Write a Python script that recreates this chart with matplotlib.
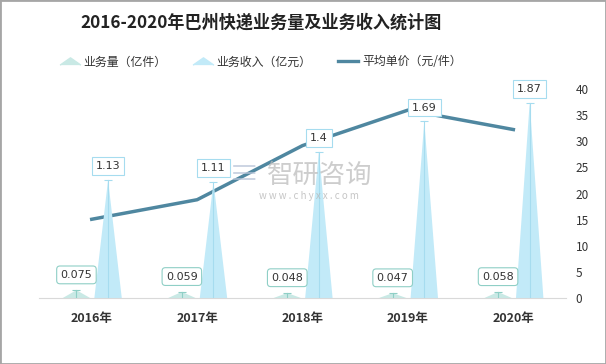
import matplotlib
matplotlib.use("Agg")
import matplotlib.pyplot as plt
from matplotlib.lines import Line2D
from matplotlib.patches import Rectangle

plt.rcParams['font.family'] = ['Noto Sans CJK SC', 'DejaVu Sans']

# ================== DATA ==================
YEARS = ["2016年", "2017年", "2018年", "2019年", "2020年"]
VOLUME = [0.075, 0.059, 0.048, 0.047, 0.058]      # 业务量（亿件）
REVENUE = [1.13, 1.11, 1.4, 1.69, 1.87]           # 业务收入（亿元）
AVG_PRICE = [15.07, 18.81, 29.17, 35.96, 32.24]   # 平均单价（元/件）
RIGHT_TICKS = [0, 5, 10, 15, 20, 25, 30, 35, 40]

TITLE = "2016-2020年巴州快递业务量及业务收入统计图"
LEG_VOLUME = "业务量（亿件）"
LEG_REVENUE = "业务收入（亿元）"
LEG_PRICE = "平均单价（元/件）"

# ================== STYLE ==================
VOL_COLOR = "#C9E9E5"
VOL_EDGE = "#8FCFC6"
REV_COLOR = "#C2EAF8"
REV_EDGE = "#A6DCEF"
LINE_COLOR = "#4F87A0"
TEXT_COLOR = "#333333"
VOL_OFFSET, REV_OFFSET = -0.145, 0.155
HALF_W = 0.13
FLAT_TRI = [(-1, -0.35), (0, 0.35), (1, -0.35)]

fig = plt.figure(figsize=(6.06, 3.64), dpi=100)
fig.patch.set_facecolor("white")

ax = fig.add_axes([0.0644, 0.1813, 0.8697, 0.5742])
ax2 = ax.twinx()

# --- spikes (left hidden axis, 0..2) ---
for i, (v, r) in enumerate(zip(VOLUME, REVENUE)):
    c = i + VOL_OFFSET
    ax.fill([c - HALF_W, c, c + HALF_W], [0, v, 0], color=VOL_COLOR, lw=0, zorder=2)
    ax.plot([c, c], [0, v], color=VOL_EDGE, lw=0.8, zorder=3)
    ax.plot([c], [v], marker="_", ms=6, color=VOL_EDGE, mew=0.8, zorder=3)
    ax.annotate(f"{v:g}", (c, v), textcoords="offset points", xytext=(0, 11),
                ha="center", va="center", fontsize=8, color=TEXT_COLOR,
                family=["DejaVu Sans"],
                bbox=dict(boxstyle="round,pad=0.35,rounding_size=0.3", fc="white",
                          ec=VOL_EDGE, lw=0.8), zorder=6, annotation_clip=False)

    c = i + REV_OFFSET
    ax.fill([c - HALF_W, c, c + HALF_W], [0, r, 0], color=REV_COLOR, lw=0, zorder=2)
    ax.plot([c, c], [0, r], color=REV_EDGE, lw=0.8, zorder=3)
    ax.plot([c], [r], marker="_", ms=6, color=REV_EDGE, mew=0.8, zorder=3)
    ax.annotate(f"{r:g}", (c, r), textcoords="offset points", xytext=(0, 10),
                ha="center", va="center", fontsize=8, color=TEXT_COLOR,
                family=["DejaVu Sans"],
                bbox=dict(boxstyle="square,pad=0.35", fc="white", ec=REV_EDGE, lw=0.8),
                zorder=6, annotation_clip=False)

ax.set_ylim(0, 2)
ax.set_xlim(-0.5, len(YEARS) - 0.5)
ax.set_yticks([])
ax.set_xticks(range(len(YEARS)))
ax.set_xticklabels(YEARS, fontsize=9, fontweight="bold", color=TEXT_COLOR)
ax.tick_params(axis="x", length=0, pad=10)
for s in ["top", "left", "right"]:
    ax.spines[s].set_visible(False)
ax.spines["bottom"].set_color("#D9D9D9")

# --- average price line (right axis, 0..40) ---
ax2.plot(range(len(YEARS)), AVG_PRICE, color=LINE_COLOR, lw=2.5, zorder=4)
ax2.set_ylim(0, 40)
ax2.set_yticks(RIGHT_TICKS)
ax2.tick_params(axis="y", length=0, pad=7, labelsize=8.5, labelcolor=TEXT_COLOR)
for s in ["top", "left", "right", "bottom"]:
    ax2.spines[s].set_visible(False)
ax.set_zorder(ax2.get_zorder() + 1)
ax.patch.set_visible(False)

# --- watermark ---
fig.text(0.528, 0.517, "智研咨询", fontsize=19, color="#B8B8B8", alpha=0.7,
         ha="center", va="center")
fig.text(0.403, 0.517, "≡", fontsize=22, color="#B8C4D8", alpha=0.7,
         ha="center", va="center")
fig.text(0.51, 0.462, "w w w . c h y x x . c o m", fontsize=7, color="#B8B8B8",
         alpha=0.8, ha="center", va="center")

# --- title & legend ---
fig.text(0.431, 0.937, TITLE, fontsize=12.3, fontweight="bold", color="#222222",
         ha="center", va="center")

handles = [
    Line2D([], [], marker=FLAT_TRI, ls="none", ms=15, color=VOL_COLOR, mec=VOL_COLOR),
    Line2D([], [], marker=FLAT_TRI, ls="none", ms=15, color=REV_COLOR, mec=REV_COLOR),
    Line2D([], [], color=LINE_COLOR, lw=2.4),
]
fig.legend(handles, [LEG_VOLUME, LEG_REVENUE, LEG_PRICE], loc="center",
           bbox_to_anchor=(0.43, 0.83), ncol=3, frameon=False, fontsize=8.6,
           handlelength=1.7, handletextpad=0.3, columnspacing=2.2,
           labelcolor=TEXT_COLOR)

# border
fig.patches.append(Rectangle((0, 0), 1, 1, transform=fig.transFigure, fill=False,
                             ec="#A6A6A6", lw=2))

fig.savefig("out.png", dpi=100)
